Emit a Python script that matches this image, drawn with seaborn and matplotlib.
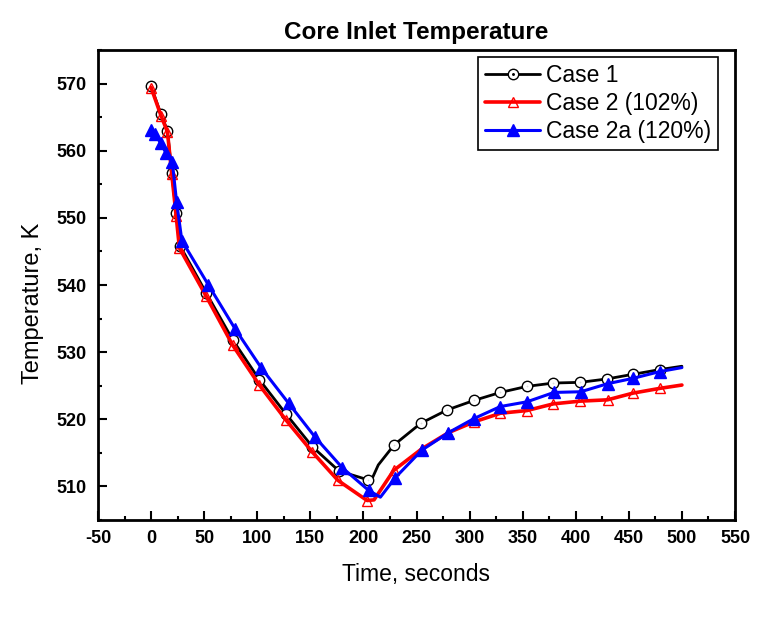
import numpy as np
import pandas as pd
import matplotlib
matplotlib.use("Agg")
import matplotlib.pyplot as plt
from matplotlib.lines import Line2D
from matplotlib.legend_handler import HandlerTuple
from matplotlib.ticker import MultipleLocator
import seaborn as sns

# ---- data ----
time_case1 = [0, 9.4, 15.4, 19.5, 23.6, 27.4, 52, 77, 102, 127, 152, 177, 204, 208, 214,
              229, 254, 279, 304, 329, 354, 379, 404, 429, 454, 479, 500]
temp_case1 = [569.6, 565.4, 563.0, 556.7, 550.7, 545.8, 538.8, 531.8, 525.9, 520.8, 515.9,
              512.3, 511.0, 511.1, 513.2, 516.2, 519.4, 521.4, 522.8, 524.0, 524.9, 525.4,
              525.5, 526.0, 526.7, 527.4, 527.9]
marker_case1 = [1, 1, 1, 1, 1, 1, 1, 1, 1, 1, 1, 1, 1, 0, 0,
                1, 1, 1, 1, 1, 1, 1, 1, 1, 1, 1, 0]

time_case2 = [0, 9.4, 15.4, 19.5, 23.6, 26.7, 52, 77, 102, 127, 152, 176, 203.5, 210,
              228.6, 255, 280, 304, 329, 354, 379, 404, 430, 454, 479, 500]
temp_case2 = [569.4, 565.2, 562.8, 556.5, 550.3, 545.5, 538.3, 531.0, 525.1, 519.9, 515.1,
              510.9, 507.9, 508.0, 512.4, 515.6, 518.0, 519.6, 520.9, 521.3, 522.3, 522.7,
              522.9, 523.9, 524.6, 525.1]
marker_case2 = [1, 1, 1, 1, 1, 1, 1, 1, 1, 1, 1, 1, 1, 0,
                1, 1, 1, 1, 1, 1, 1, 1, 1, 1, 1, 0]

time_case2a = [0, 4, 9, 14, 20, 24, 29, 54, 79, 104, 129.5, 154.7, 180, 205, 216,
               230, 255, 280, 304, 329, 354, 379.5, 404.7, 430, 454, 479, 500]
temp_case2a = [563.1, 562.5, 561.1, 559.7, 558.3, 552.4, 546.6, 540.0, 533.5, 527.6, 522.4,
               517.3, 512.8, 509.4, 508.4, 511.3, 515.4, 518.0, 520.1, 521.9, 522.6, 524.0,
               524.1, 525.3, 526.1, 527.1, 527.7]
marker_case2a = [1, 1, 1, 1, 1, 1, 1, 1, 1, 1, 1, 1, 1, 1, 0,
                 1, 1, 1, 1, 1, 1, 1, 1, 1, 1, 1, 0]

labels = ["Case 1", "Case 2 (102%)", "Case 2a (120%)"]
x_ticks = [-50, 0, 50, 100, 150, 200, 250, 300, 350, 400, 450, 500, 550]
y_ticks = [510, 520, 530, 540, 550, 560, 570]

sns.set_theme(style="white")
plt.rcParams["font.family"] = ["Liberation Sans", "DejaVu Sans"]
plt.rcParams["axes.unicode_minus"] = False
plt.rcParams["text.color"] = "black"
plt.rcParams["axes.labelcolor"] = "black"
plt.rcParams["xtick.color"] = "black"
plt.rcParams["ytick.color"] = "black"

fig = plt.figure(figsize=(7.61, 6.18), dpi=100)
ax = fig.add_axes([98/761, 1-520/618, (735-98)/761, (520-50)/618])

def idx(mask):
    return [i for i, m in enumerate(mask) if m]

# Case 1
sns.lineplot(x=time_case1, y=temp_case1, ax=ax, sort=False, color="black", lw=2.0,
             marker="o", markersize=7.5, mfc="white", mec="black", mew=1.0,
             markevery=idx(marker_case1), zorder=3)
sns.lineplot(x=time_case1, y=temp_case1, ax=ax, sort=False, color="black", lw=0,
             marker=".", markersize=2.2, markevery=idx(marker_case1), zorder=3.1)
# Case 2
sns.lineplot(x=time_case2, y=temp_case2, ax=ax, sort=False, color="red", lw=2.6,
             marker="^", markersize=7.5, mfc="none", mec="red", mew=1.0,
             markevery=idx(marker_case2), zorder=4)
# Case 2a
sns.lineplot(x=time_case2a, y=temp_case2a, ax=ax, sort=False, color="blue", lw=2.2,
             marker="^", markersize=8.5, mfc="blue", mec="blue", mew=1.0,
             markevery=idx(marker_case2a), zorder=5)

ax.set_xlim(-50, 550)
ax.set_ylim(505, 575)
ax.set_xticks(x_ticks)
ax.set_yticks(y_ticks)
ax.xaxis.set_minor_locator(MultipleLocator(25))
ax.yaxis.set_minor_locator(MultipleLocator(5))
ax.tick_params(which="major", direction="in", length=6.5, width=1.5,
               bottom=True, left=True, top=False, right=False, labelsize=13)
ax.tick_params(axis="x", which="major", pad=7)
ax.tick_params(axis="y", which="major", pad=8)
ax.tick_params(which="minor", direction="in", length=3, width=1.5,
               bottom=True, left=True, top=False, right=False)
for lab in ax.get_xticklabels() + ax.get_yticklabels():
    lab.set_fontweight("bold")
for sp in ax.spines.values():
    sp.set_linewidth(2.0)
    sp.set_color("black")
    sp.set_visible(True)

ax.set_xlabel("Time, seconds", fontsize=16.5)
ax.set_ylabel("Temperature, K", fontsize=17)
ax.xaxis.set_label_coords((416 - 98) / 637, -(574 - 520) / 470)
ax.yaxis.set_label_coords(-(98 - 33) / 637, (520 - 303) / 470)
ax.xaxis.label.set_va("center")
ax.yaxis.label.set_va("center")
ax.set_title("Core Inlet Temperature", fontsize=17.5, fontweight="bold", pad=8)

h1 = (Line2D([], [], color="black", lw=2.0, marker="o", markersize=7.5, mfc="white",
             mec="black", mew=1.0),
      Line2D([], [], color="black", lw=0, marker=".", markersize=2.2))
h2 = Line2D([], [], color="red", lw=2.6, marker="^", markersize=7.5, mfc="none",
            mec="red", mew=1.0)
h3 = Line2D([], [], color="blue", lw=2.2, marker="^", markersize=8.5, mfc="blue",
            mec="blue", mew=1.0)
leg = ax.legend([h1, h2, h3], labels, handler_map={tuple: HandlerTuple(ndivide=1, pad=0)},
                loc="upper right", bbox_to_anchor=((718 - 98) / 637, (520 - 57) / 470),
                bbox_transform=ax.transAxes, fontsize=16.5,
                frameon=True, fancybox=False, edgecolor="black", framealpha=1,
                handlelength=2.4, handletextpad=0.25, borderpad=0.3, labelspacing=0.22,
                numpoints=1, borderaxespad=0.0)
leg.get_frame().set_linewidth(1.2)

fig.savefig("out.png", dpi=100)
